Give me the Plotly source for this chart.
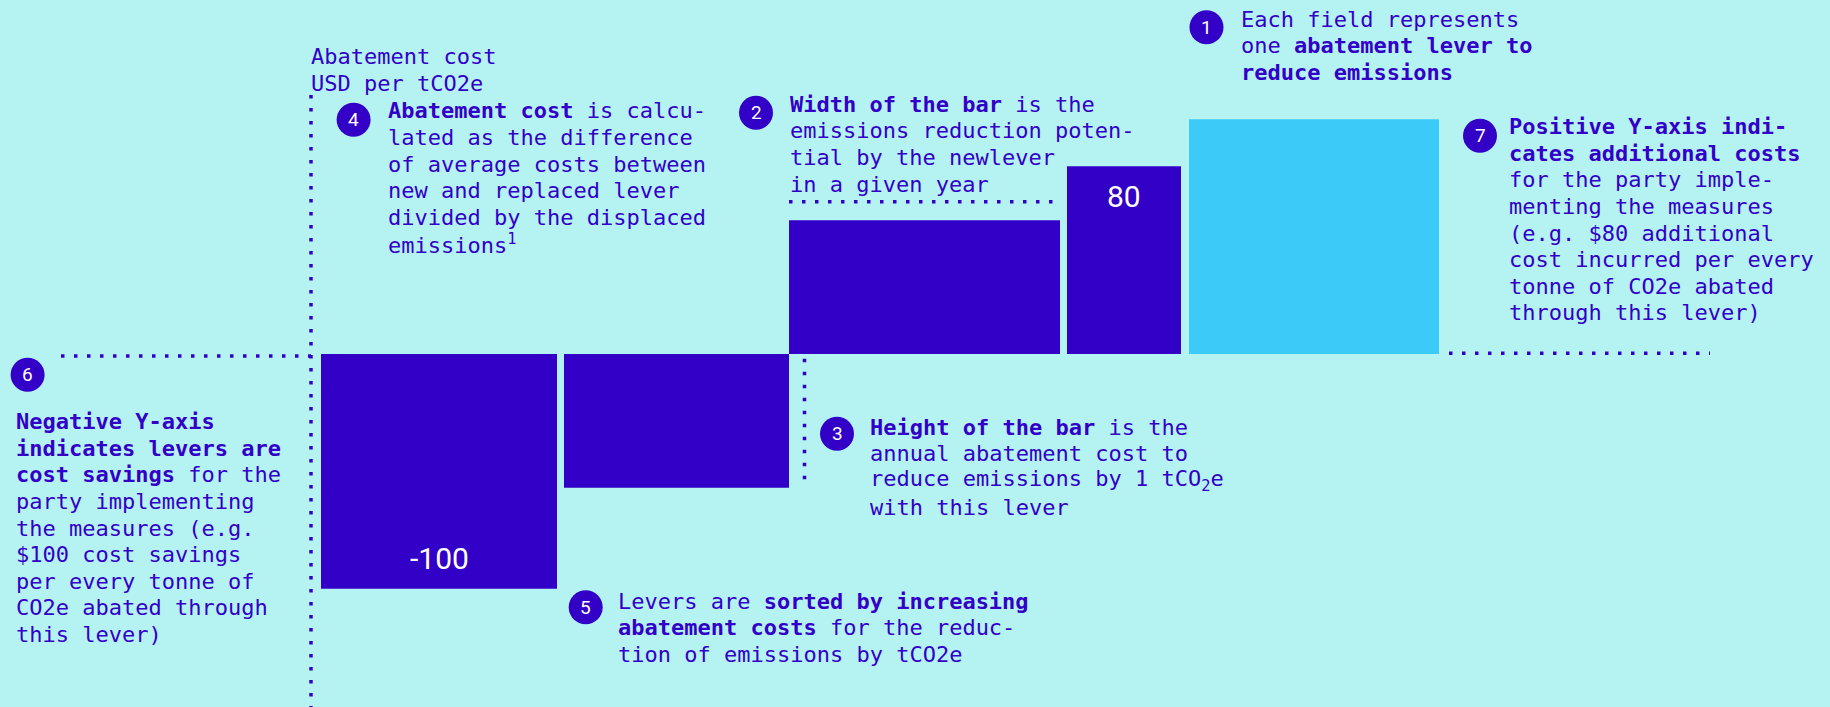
import numpy as np
import plotly.graph_objects as go

# abatement levers, sorted by increasing cost
lever_widths = [2.36, 2.25, 2.71, 1.14, 2.50]     # emissions reduction potential
lever_costs = [-100, -57, 57, 80, 100]             # USD per tCO2e
lever_labels = ["-100", "", "", "80", ""]
lever_highlight = [False, False, False, False, True]

axis_title = ["Abatement cost", "USD per tCO2e"]

notes = {
    "1": ["Each field represents",
          "one <b>abatement lever to</b>",
          "<b>reduce emissions</b>"],
    "2": ["<b>Width of the bar</b> is the",
          "emissions reduction poten-",
          "tial by the newlever",
          "in a given year"],
    "3": ["<b>Height of the bar</b> is the",
          "annual abatement cost to",
          "reduce emissions by 1 tCO<sub>2</sub>e",
          "with this lever"],
    "4": ["<b>Abatement cost</b> is calcu-",
          "lated as the difference",
          "of average costs between",
          "new and replaced lever",
          "divided by the displaced",
          "emissions<sup>1</sup>"],
    "5": ["Levers are <b>sorted by increasing</b>",
          "<b>abatement costs</b> for the reduc-",
          "tion of emissions by tCO2e"],
    "6": ["<b>Negative Y-axis</b>",
          "<b>indicates levers are</b>",
          "<b>cost savings</b> for the",
          "party implementing",
          "the measures (e.g.",
          "$100 cost savings",
          "per every tonne of",
          "CO2e abated through",
          "this lever)"],
    "7": ["<b>Positive Y-axis indi-</b>",
          "<b>cates additional costs</b>",
          "for the party imple-",
          "menting the measures",
          "(e.g. $80 additional",
          "cost incurred per every",
          "tonne of CO2e abated",
          "through this lever)"],
}

W, H = 1830, 707
BG = "#b5f3f3"
DARK = "#3300c8"
LIGHT = "#3ccaf8"
MONO = "DejaVu Sans Mono"
GAPS = [0.07, 0.0, 0.07, 0.08]
PX_PER_UNIT = 2.347
BASE_PX = 354

# bar placement
lefts = [0.0]
for w, g in zip(lever_widths[:-1], GAPS):
    lefts.append(lefts[-1] + w + g)
lefts = np.array(lefts)
widths = np.array(lever_widths)
centers = lefts + widths / 2
rights = lefts + widths

x_range = [-3.21, -3.21 + W / 100]
y_range = [-(H - BASE_PX) / PX_PER_UNIT, BASE_PX / PX_PER_UNIT]


def px(x):
    return x / W


def py(y):
    return 1 - y / H


fig = go.Figure(
    go.Bar(
        x=centers,
        y=lever_costs,
        width=widths,
        marker_color=[LIGHT if h else DARK for h in lever_highlight],
        marker_line_width=0,
        hoverinfo="skip",
    )
)

annotations = []
shapes = []

# value labels inside bars
for c, v, lab in zip(centers, lever_costs, lever_labels):
    if lab:
        annotations.append(dict(
            x=c, y=v - np.sign(v) * 30 / PX_PER_UNIT, xref="x", yref="y",
            xanchor="center", yanchor="middle",
            text=lab, showarrow=False,
            font=dict(family="Roboto", size=30, color="white"),
        ))


def text_block(lines, x0, y0, step=26.6):
    for i, line in enumerate(lines):
        annotations.append(dict(
            x=px(x0), y=py(y0 + i * step), xref="paper", yref="paper",
            xanchor="left", yanchor="middle", text=line, showarrow=False,
            font=dict(family=MONO, size=22, color=DARK),
        ))


def badge(num, cx, cy, r=17):
    shapes.append(dict(
        type="circle", xref="paper", yref="paper",
        x0=px(cx - r), x1=px(cx + r), y0=py(cy + r), y1=py(cy - r),
        fillcolor=DARK, line_width=0, layer="above",
    ))
    annotations.append(dict(
        x=px(cx), y=py(cy), xref="paper", yref="paper",
        xanchor="center", yanchor="middle",
        text=num, showarrow=False,
        font=dict(family="Roboto", size=19, color="white"),
    ))


def dotted(x0, y0, x1, y1, xref="paper", yref="paper"):
    shapes.append(dict(
        type="line", xref=xref, yref=yref, x0=x0, y0=y0, x1=x1, y1=y1,
        line=dict(color=DARK, width=3.5, dash="3.5px,9.5px"),
    ))


text_block(axis_title, 309, 56.7)

note_pos = {
    "1": ((1206.5, 27.3), (1239, 19)),
    "2": ((756, 112.7), (788, 104.3)),
    "3": ((837, 433.7), (868, 427.3)),
    "4": ((353.6, 119.7), (386, 111)),
    "5": ((585.7, 607.3), (616, 601.3)),
    "6": ((27.6, 374.7), (14, 421.7)),
    "7": ((1480, 135.7), (1507, 126.7)),
}
for k, lines in notes.items():
    (cx, cy), (tx, ty) = note_pos[k]
    badge(k, cx, cy)
    text_block(lines, tx, ty)

# y axis (dotted) and zero lines
dotted(-0.10, py(95), -0.10, 0, xref="x")
dotted(px(61), py(356), px(311), py(356))
dotted(px(1449), py(353.3), px(1710), py(353.3))
# width marker above bar 3
dotted(lefts[2], 64.9, rights[2], 64.9, xref="x", yref="y")
# height marker next to bar 2
dotted(lefts[2] + 0.155, -2, lefts[2] + 0.155, lever_costs[1], xref="x", yref="y")

fig.update_layout(
    width=W,
    height=H,
    margin=dict(l=0, r=0, t=0, b=0),
    paper_bgcolor=BG,
    plot_bgcolor=BG,
    showlegend=False,
    xaxis=dict(range=x_range, visible=False, fixedrange=True),
    yaxis=dict(range=y_range, visible=False, fixedrange=True),
    annotations=annotations,
    shapes=shapes,
)

fig.write_html(
    "out.html",
    config={"displayModeBar": False},
    post_script="document.body.style.margin='0';document.body.style.overflow='hidden';",
)
